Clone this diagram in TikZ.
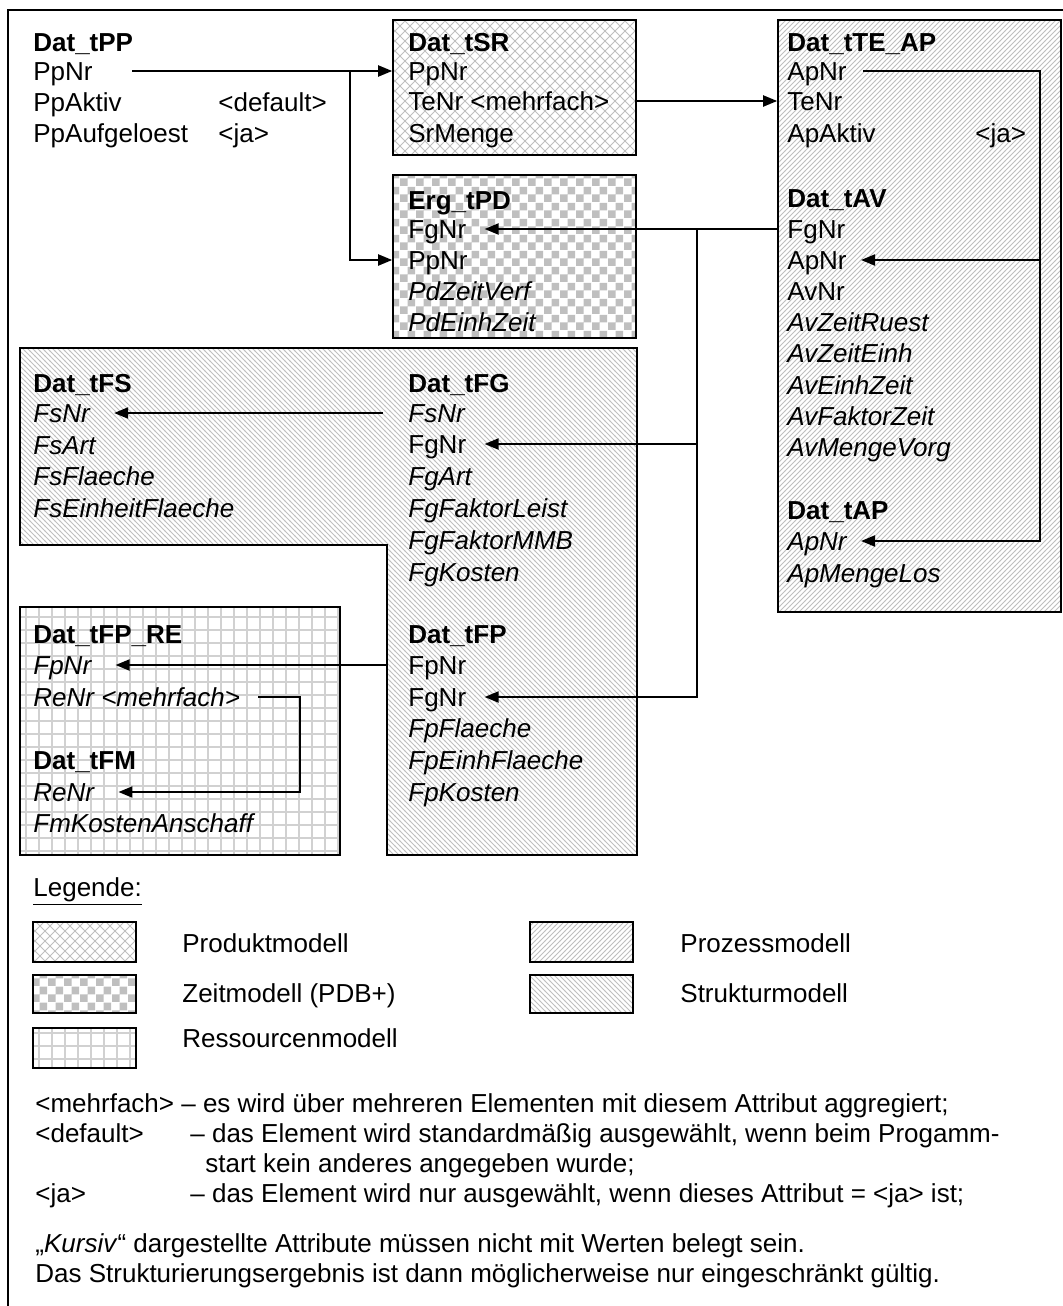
\documentclass[tikz,border=0pt]{standalone}
\usepackage{fontspec}
\setmainfont{Liberation Sans}
\usetikzlibrary{arrows.meta, patterns, fit}

% fill patterns of the five sub-models
\pgfdeclarepatternformonly{prodcross}{\pgfqpoint{-1pt}{-1pt}}{\pgfqpoint{6pt}{6pt}}{\pgfqpoint{5pt}{5pt}}{
  \pgfsetlinewidth{0.45pt}
  \pgfpathmoveto{\pgfqpoint{0pt}{0pt}}\pgfpathlineto{\pgfqpoint{5.1pt}{5.1pt}}
  \pgfpathmoveto{\pgfqpoint{0pt}{5pt}}\pgfpathlineto{\pgfqpoint{5.1pt}{-0.1pt}}
  \pgfusepath{stroke}}
\pgfdeclarepatternformonly{zeitcheck}{\pgfqpoint{0pt}{0pt}}{\pgfqpoint{8pt}{8pt}}{\pgfqpoint{8pt}{8pt}}{
  \pgfpathrectangle{\pgfqpoint{0pt}{0pt}}{\pgfqpoint{4pt}{4pt}}
  \pgfpathrectangle{\pgfqpoint{4pt}{4pt}}{\pgfqpoint{4pt}{4pt}}
  \pgfusepath{fill}}
\pgfdeclarepatternformonly{prozlines}{\pgfqpoint{-1pt}{-1pt}}{\pgfqpoint{3.5pt}{3.5pt}}{\pgfqpoint{2.5pt}{2.5pt}}{
  \pgfsetlinewidth{0.45pt}
  \pgfpathmoveto{\pgfqpoint{0pt}{0pt}}\pgfpathlineto{\pgfqpoint{2.6pt}{2.6pt}}
  \pgfusepath{stroke}}
\pgfdeclarepatternformonly{struklines}{\pgfqpoint{-1pt}{-1pt}}{\pgfqpoint{3.5pt}{3.5pt}}{\pgfqpoint{2.5pt}{2.5pt}}{
  \pgfsetlinewidth{0.45pt}
  \pgfpathmoveto{\pgfqpoint{0pt}{2.5pt}}\pgfpathlineto{\pgfqpoint{2.6pt}{-0.1pt}}
  \pgfusepath{stroke}}
\pgfdeclarepatternformonly{ressgrid}{\pgfqpoint{-1pt}{-1pt}}{\pgfqpoint{7.5pt}{7.5pt}}{\pgfqpoint{6.5pt}{6.5pt}}{
  \pgfsetlinewidth{0.8pt}
  \pgfpathmoveto{\pgfqpoint{0pt}{-0.5pt}}\pgfpathlineto{\pgfqpoint{0pt}{7pt}}
  \pgfpathmoveto{\pgfqpoint{-0.5pt}{0pt}}\pgfpathlineto{\pgfqpoint{7pt}{0pt}}
  \pgfusepath{stroke}}

\begin{document}
\begin{tikzpicture}[x=0.5pt,y=-0.5pt,
  >={Triangle[length=7pt,width=5.5pt]},
  field/.style={anchor=west,inner sep=0pt,text height=9.4pt,text depth=0pt,
    font=\fontsize{13}{15.5}\selectfont},
  tabhead/.style={field,font=\fontsize{13}{15.5}\selectfont\bfseries},
  conn/.style={line width=1pt,->},
  tabbox/.style={draw,line width=0.8pt,inner sep=0pt},
  produkt/.style={tabbox,pattern=prodcross,pattern color=black!25},
  zeit/.style={tabbox,pattern=zeitcheck,pattern color=black!25},
  prozess/.style={tabbox,pattern=prozlines,pattern color=black!25},
  struktur/.style={tabbox,pattern=struklines,pattern color=black!25},
  ressource/.style={tabbox,pattern=ressgrid,pattern color=black!18}]
\useasboundingbox (0,0) rectangle (1063,1306);

% Outer frame (runs off at right and bottom).
\draw[line width=0.8pt] (1063,10) -- (8,10) -- (8,1306);

% Shaded areas of the sub-models.
\node[produkt,fit={(393,20) (636,155)}] (srbox) {};
\node[zeit,fit={(393,175) (636,338)}] (pdbox) {};
\node[prozess,fit={(778,20) (1061,612)}] (tebox) {};
\draw[struktur] (20,348) -- (637,348) -- (637,855) -- (387,855)
  -- (387,545) -- (20,545) -- cycle;
\node[ressource,fit={(20,607) (340,855)}] (rebox) {};

% Dat_tPP
\node[tabhead] (pp0) at (33,42) {Dat\_tPP};
\node[field] (pp1) at (33,71) {PpNr};
\node[field] (pp2) at (33,102) {PpAktiv};
\node[field] (pp3) at (33,133) {PpAufgeloest};
\node[field] (pp2x) at (218,102) {<default>};
\node[field] (pp3x) at (218,133) {<ja>};

% Dat_tSR
\node[tabhead] (sr0) at (408,42) {Dat\_tSR};
\node[field] (sr1) at (408,71) {PpNr};
\node[field] (sr2) at (408,101) {TeNr <mehrfach>};
\node[field] (sr3) at (408,133) {SrMenge};

% Erg_tPD
\node[tabhead] (pd0) at (408,200) {Erg\_tPD};
\node[field] (pd1) at (408,229) {FgNr};
\node[field] (pd2) at (408,260) {PpNr};
\node[field] (pd3) at (408,291) {\itshape PdZeitVerf};
\node[field] (pd4) at (408,322) {\itshape PdEinhZeit};

% Dat_tTE_AP
\node[tabhead] (te0) at (787,42) {Dat\_tTE\_AP};
\node[field] (te1) at (787,71) {ApNr};
\node[field] (te2) at (787,101) {TeNr};
\node[field] (te3) at (787,133) {ApAktiv};
\node[field] (te3x) at (975,133) {<ja>};

% Dat_tAV
\node[tabhead] (av0) at (787,198) {Dat\_tAV};
\node[field] (av1) at (787,229) {FgNr};
\node[field] (av2) at (787,260) {ApNr};
\node[field] (av3) at (787,291) {AvNr};
\node[field] (av4) at (787,322) {\itshape AvZeitRuest};
\node[field] (av5) at (787,353) {\itshape AvZeitEinh};
\node[field] (av6) at (787,385) {\itshape AvEinhZeit};
\node[field] (av7) at (787,416) {\itshape AvFaktorZeit};
\node[field] (av8) at (787,447) {\itshape AvMengeVorg};

% Dat_tAP
\node[tabhead] (ap0) at (787,510) {Dat\_tAP};
\node[field] (ap1) at (787,541) {\itshape ApNr};
\node[field] (ap2) at (787,573) {\itshape ApMengeLos};

% Dat_tFS
\node[tabhead] (fs0) at (33,383) {Dat\_tFS};
\node[field] (fs1) at (33,413) {\itshape FsNr};
\node[field] (fs2) at (33,445) {\itshape FsArt};
\node[field] (fs3) at (33,476) {\itshape FsFlaeche};
\node[field] (fs4) at (33,508) {\itshape FsEinheitFlaeche};

% Dat_tFG
\node[tabhead] (fg0) at (408,383) {Dat\_tFG};
\node[field] (fg1) at (408,413) {\itshape FsNr};
\node[field] (fg2) at (408,444) {FgNr};
\node[field] (fg3) at (408,476) {\itshape FgArt};
\node[field] (fg4) at (408,508) {\itshape FgFaktorLeist};
\node[field] (fg5) at (408,540) {\itshape FgFaktorMMB};
\node[field] (fg6) at (408,572) {\itshape FgKosten};

% Dat_tFP
\node[tabhead] (fp0) at (408,634) {Dat\_tFP};
\node[field] (fp1) at (408,665) {FpNr};
\node[field] (fp2) at (408,697) {FgNr};
\node[field] (fp3) at (408,728) {\itshape FpFlaeche};
\node[field] (fp4) at (408,760) {\itshape FpEinhFlaeche};
\node[field] (fp5) at (408,792) {\itshape FpKosten};

% Dat_tFP_RE and Dat_tFM
\node[tabhead] (re0) at (33,634) {Dat\_tFP\_RE};
\node[field] (re1) at (33,665) {\itshape FpNr};
\node[field] (re2) at (33,697) {\itshape ReNr <mehrfach>};
\node[tabhead] (fm0) at (33,760) {Dat\_tFM};
\node[field] (fm1) at (33,792) {\itshape ReNr};
\node[field] (fm2) at (33,823) {\itshape FmKostenAnschaff};

% Key relations.
\coordinate (ppjoin) at (350,71);
\draw[conn] ([xshift=19.5pt]pp1.east) -- (pp1 -| srbox.west);
\draw[conn] (ppjoin) |- (pdbox.west |- pd2);
\draw[conn] (sr2 -| srbox.east) -- (tebox.west |- te2);
\coordinate (fgjoin) at (697,229);
\draw[conn] (tebox.west |- av1) -- ([xshift=9pt]pd1.east);
\draw[conn] (fgjoin) |- ([xshift=9pt]fg2.east);
\draw[conn] (fgjoin) |- ([xshift=9pt]fp2.east);
\coordinate (apjoin) at (1040,71);
\draw[conn] ([xshift=8pt]te1.east) -- (apjoin) |- ([xshift=7pt]ap1.east);
\draw[conn] (apjoin |- av2) -- ([xshift=7pt]av2.east);
\draw[conn] ([xshift=-12.5pt]fg1.west) -- ([xshift=12pt]fs1.east);
\draw[conn] ([xshift=-10.5pt]fp1.west) -- ([xshift=12pt]re1.east);
\coordinate (rejoin) at (300,697);
\draw[conn] ([xshift=9pt]re2.east) -- (rejoin) |- ([xshift=12pt]fm1.east);

% Legend.
\node[field] (lg0) at (33,887) {\underline{Legende:}};
\node[produkt,fit={(33,922) (136,962)}] (lgprod) {};
\node[field] (lgprodtxt) at (182,943) {Produktmodell};
\node[prozess,fit={(530,922) (633,962)}] (lgproz) {};
\node[field] (lgproztxt) at (680,943) {Prozessmodell};
\node[zeit,fit={(33,975) (136,1013)}] (lgzeit) {};
\node[field] (lgzeittxt) at (182,993) {Zeitmodell (PDB+)};
\node[struktur,fit={(530,975) (633,1013)}] (lgstrukt) {};
\node[field] (lgstrukttxt) at (680,993) {Strukturmodell};
\node[ressource,fit={(33,1028) (136,1068)}] (lgress) {};
\node[field] (lgresstxt) at (182,1038) {Ressourcenmodell};

% Notes on the markers.
\node[field] (nmf) at (35,1103) {<mehrfach> – es wird über mehreren Elementen mit diesem Attribut aggregiert;};
\node[field] (ndf) at (35,1133) {<default>};
\node[field] (ndftxt) at (190,1133) {– das Element wird standardmäßig ausgewählt, wenn beim Progamm-};
\node[field] (ndftxt2) at (205,1163) {start kein anderes angegeben wurde;};
\node[field] (nja) at (35,1193) {<ja>};
\node[field] (njatxt) at (190,1193) {– das Element wird nur ausgewählt, wenn dieses Attribut = <ja> ist;};
\node[field] (nkur) at (35,1243) {„\textit{Kursiv}“ dargestellte Attribute müssen nicht mit Werten belegt sein.};
\node[field] (nerg) at (35,1273) {Das Strukturierungsergebnis ist dann möglicherweise nur eingeschränkt gültig.};
\end{tikzpicture}
\end{document}
